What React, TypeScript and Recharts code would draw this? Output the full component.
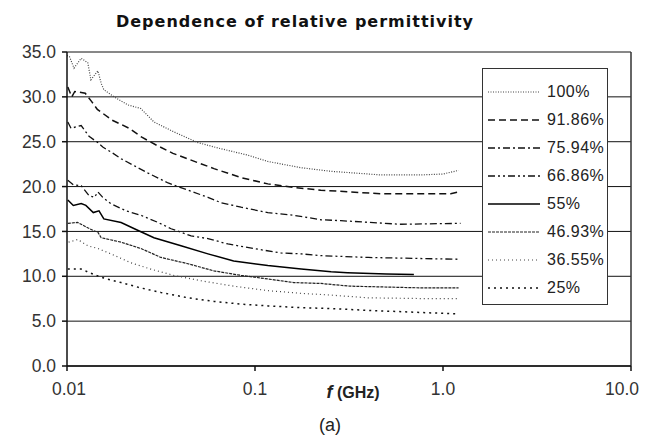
import { LineChart, Line, XAxis, YAxis, CartesianGrid, Legend, ReferenceLine } from 'recharts';

// frequency (GHz) / relative permittivity per series
const f100 = [0.01, 0.0103, 0.0109, 0.0119, 0.0129, 0.0134, 0.0146, 0.0152, 0.0157, 0.0178, 0.0211, 0.0247, 0.029, 0.037, 0.0497, 0.0636, 0.0917, 0.117, 0.176, 0.254, 0.466, 0.76, 1.0, 1.21];
const v100 = [34.6, 34.5, 33.2, 34.3, 33.8, 31.9, 32.9, 31.5, 30.8, 30.0, 29.1, 28.7, 27.2, 26.1, 24.9, 24.3, 23.5, 22.8, 22.1, 21.7, 21.3, 21.3, 21.4, 21.8];

const f9186 = [0.0101, 0.0106, 0.011, 0.0125, 0.0135, 0.0145, 0.0174, 0.0214, 0.025, 0.03, 0.0366, 0.0605, 0.0843, 0.117, 0.161, 0.224, 0.466, 1.1, 1.21];
const v9186 = [31.1, 30.0, 30.6, 30.4, 29.5, 28.6, 27.4, 26.5, 25.5, 24.6, 23.7, 22.0, 21.0, 20.3, 19.9, 19.6, 19.2, 19.2, 19.4];

const f7594 = [0.0101, 0.0105, 0.0119, 0.0131, 0.0146, 0.0155, 0.0176, 0.0194, 0.027, 0.0345, 0.044, 0.0562, 0.066, 0.0843, 0.117, 0.161, 0.224, 0.286, 0.594, 1.24];
const v7594 = [27.2, 26.5, 26.8, 25.6, 24.9, 24.4, 23.7, 23.1, 21.5, 20.4, 19.6, 18.8, 18.2, 17.7, 17.1, 16.8, 16.3, 16.2, 15.8, 15.9];

const f6686 = [0.0101, 0.0108, 0.0119, 0.0131, 0.014, 0.0146, 0.0155, 0.0171, 0.0206, 0.0247, 0.0305, 0.0358, 0.0457, 0.0562, 0.0718, 0.098, 0.137, 0.176, 0.224, 0.4, 1.2];
const v6686 = [20.7, 20.2, 20.1, 19.0, 18.8, 19.4, 18.8, 18.1, 17.3, 16.8, 16.0, 15.3, 14.5, 14.2, 13.6, 13.1, 12.6, 12.5, 12.3, 12.1, 11.9];

const f55 = [0.0101, 0.0108, 0.0119, 0.0126, 0.0138, 0.0148, 0.0157, 0.0194, 0.0239, 0.029, 0.0404, 0.0562, 0.077, 0.117, 0.176, 0.254, 0.31, 0.5, 0.7];
const v55 = [18.5, 17.9, 18.1, 17.9, 17.1, 17.3, 16.4, 16.0, 15.1, 14.3, 13.4, 12.5, 11.7, 11.2, 10.8, 10.5, 10.4, 10.25, 10.2];

const f4693 = [0.0101, 0.0114, 0.0129, 0.0138, 0.0146, 0.0152, 0.0194, 0.0247, 0.0316, 0.044, 0.0605, 0.0843, 0.117, 0.161, 0.224, 0.32, 0.79, 1.21];
const v4693 = [15.9, 16.0, 15.4, 15.1, 14.9, 14.3, 13.8, 13.1, 12.1, 11.4, 10.6, 10.1, 9.7, 9.3, 9.2, 8.9, 8.7, 8.7];

const f3655 = [0.0102, 0.0114, 0.0129, 0.0146, 0.0171, 0.0219, 0.0279, 0.037, 0.0516, 0.077, 0.117, 0.176, 0.254, 0.4, 0.89, 1.2];
const v3655 = [13.8, 14.1, 13.4, 13.1, 12.5, 11.5, 10.8, 10.1, 9.5, 8.9, 8.4, 8.1, 7.9, 7.6, 7.5, 7.5];

const f25 = [0.0101, 0.0119, 0.0139, 0.0157, 0.0194, 0.0247, 0.0316, 0.044, 0.0605, 0.0843, 0.117, 0.176, 0.254, 0.4, 1.21];
const v25 = [10.8, 10.8, 10.2, 9.8, 9.3, 8.7, 8.2, 7.6, 7.2, 6.9, 6.7, 6.5, 6.4, 6.2, 5.8];

const xTicks = [0.01, 0.1, 1, 10];
const xTickLabels = ['0.01', '0.1', '1.0', '10.0'];
const yTicks = [0, 5, 10, 15, 20, 25, 30, 35];

const zip = (f: number[], v: number[]) => f.map((x, i) => ({ f: x, v: v[i] }));

const series = [
  { name: '100%', data: zip(f100, v100), stroke: '#444', dash: '1 1.5', width: 1.2 },
  { name: '91.86%', data: zip(f9186, v9186), stroke: '#111', dash: '7 4', width: 1.5 },
  { name: '75.94%', data: zip(f7594, v7594), stroke: '#111', dash: '7 3 2 3', width: 1.3 },
  { name: '66.86%', data: zip(f6686, v6686), stroke: '#111', dash: '7 3 2 3 2 3', width: 1.3 },
  { name: '55%', data: zip(f55, v55), stroke: '#000', dash: undefined, width: 1.5 },
  { name: '46.93%', data: zip(f4693, v4693), stroke: '#222', dash: '3 1', width: 1.2 },
  { name: '36.55%', data: zip(f3655, v3655), stroke: '#444', dash: '1 3', width: 1.2 },
  { name: '25%', data: zip(f25, v25), stroke: '#111', dash: '2 4', width: 1.5 },
];

const tickFont = { fontSize: 17.5, fill: '#333', fontFamily: 'Liberation Sans, Arial, sans-serif' };

// outer labels sit a little inward of their ticks
function XTick(props: any) {
  const { x, y, payload } = props;
  const i = xTicks.indexOf(payload.value);
  const dx = i === 0 ? 2 : i === xTicks.length - 1 ? -9 : 0;
  return (
    <text x={x + dx} y={y} dy="0.71em" textAnchor="middle" {...tickFont}>
      {xTickLabels[i]}
    </text>
  );
}

function LegendBox() {
  return (
    <div style={{
      width: 126, height: 237, boxSizing: 'border-box', border: '1.5px solid #333',
      background: '#fff', paddingTop: 9, paddingLeft: 4,
      fontFamily: 'Liberation Sans, Arial, sans-serif', fontSize: 16, color: '#222'
    }}>
      {series.map(s => (
        <div key={s.name} style={{ display: 'flex', alignItems: 'center', height: 28 }}>
          <svg width={58} height={10} style={{ marginRight: 2 }}>
            <line x1={1} y1={5} x2={53} y2={5} stroke={s.stroke} strokeWidth={s.width} strokeDasharray={s.dash} />
          </svg>
          <span style={{ letterSpacing: 0.5 }}>{s.name}</span>
        </div>
      ))}
    </div>
  );
}

export default function App() {
  return (
    <div style={{ position: 'relative', width: 632, height: 430 }}>
      <div style={{
        position: 'absolute', left: 0, width: 574, top: 4, textAlign: 'center',
        fontFamily: 'DejaVu Sans, Verdana, sans-serif', fontWeight: 'bold', fontSize: 16,
        letterSpacing: 1, color: '#111'
      }}>
        Dependence of relative permittivity
      </div>
      <LineChart width={632} height={422} margin={{ top: 44, right: 9, left: 0, bottom: 34 }}>
        <CartesianGrid vertical={false} stroke="#111" strokeWidth={1} />
        <XAxis
          dataKey="f"
          type="number"
          scale="log"
          domain={[0.01, 10]}
          ticks={xTicks}
          allowDataOverflow
          height={30}
          stroke="#111"
          strokeWidth={1.5}
          tickSize={5}
          tickMargin={12}
          tick={<XTick />}
        />
        <YAxis
          type="number"
          domain={[0, 35]}
          ticks={yTicks}
          width={59}
          stroke="#111"
          strokeWidth={1.5}
          tickSize={5}
          tickMargin={6}
          tick={tickFont}
          tickFormatter={(v: number) => v.toFixed(1)}
        />
        <ReferenceLine x={10} stroke="#333" strokeWidth={1.5} />
        {series.map(s => (
          <Line
            key={s.name}
            data={s.data}
            dataKey="v"
            name={s.name}
            type="linear"
            stroke={s.stroke}
            strokeWidth={s.width}
            strokeDasharray={s.dash}
            dot={false}
            isAnimationActive={false}
          />
        ))}
        <Legend
          layout="horizontal"
          verticalAlign="middle"
          align="center"
          wrapperStyle={{ left: 474, top: 60, width: 126, height: 237 }}
          content={() => <LegendBox />}
        />
      </LineChart>
      <div style={{
        position: 'absolute', left: 295, width: 100, top: 374, textAlign: 'center',
        fontFamily: 'Liberation Sans, Arial, sans-serif', fontSize: 16, fontWeight: 'bold', color: '#222'
      }}>
        <i style={{ fontSize: 18 }}>f</i> (GHz)
      </div>
      <div style={{
        position: 'absolute', left: 272, width: 100, top: 407, textAlign: 'center',
        fontFamily: 'Liberation Sans, Arial, sans-serif', fontSize: 18, color: '#222'
      }}>
        (a)
      </div>
    </div>
  );
}
